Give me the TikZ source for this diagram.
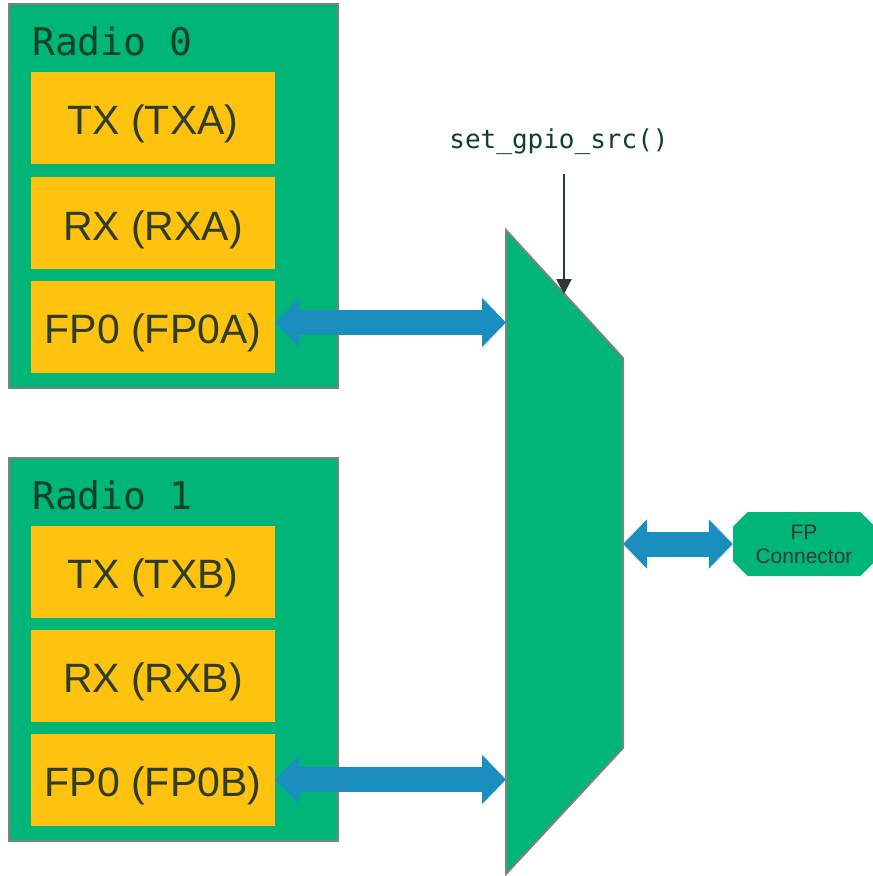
\documentclass[tikz,border=0pt]{standalone}
\usepackage{fontspec}
\setmainfont{Liberation Sans}
\newfontfamily\codefont{DejaVu Sans Mono}
\usetikzlibrary{arrows.meta,shapes.misc}

\definecolor{radiogreen}{RGB}{0,181,120}
\definecolor{portyellow}{RGB}{255,194,14}
\definecolor{busblue}{RGB}{27,142,192}
\definecolor{edgegray}{RGB}{128,128,128}
\definecolor{labelgreen}{RGB}{14,66,40}
\definecolor{portink}{RGB}{46,60,40}
\definecolor{selink}{RGB}{43,58,42}

\begin{document}
\begin{tikzpicture}[x=1pt,y=-1pt,
  radio/.style={draw=edgegray,fill=radiogreen,line width=2pt,
    minimum width=329pt,minimum height=384pt,inner sep=0pt},
  radiolabel/.style={anchor=base west,text=labelgreen,inner sep=0pt,
    font=\codefont\fontsize{38}{44}\selectfont},
  port/.style={fill=portyellow,text=portink,inner sep=0pt,
    text height=34pt,text depth=0pt,
    minimum width=244pt,minimum height=92pt,font=\fontsize{41}{48}\selectfont},
  mux/.style={draw=edgegray,fill=radiogreen,line width=2pt,line join=miter},
  connector/.style={chamfered rectangle,chamfered rectangle xsep=11pt,
    fill=radiogreen,text=black!78,align=center,inner sep=0pt,
    minimum width=142pt,minimum height=64pt,font=\fontsize{21}{24}\selectfont},
  code/.style={anchor=base,text=labelgreen,inner sep=0pt,
    font=\codefont\fontsize{26}{30}\selectfont},
  bus/.style={draw=busblue,line width=25pt,
    {Triangle[length=24pt,width=48pt]}-{Triangle[length=24pt,width=48pt]}},
  sel/.style={draw=selink,line width=2.4pt,-{Triangle[length=15pt,width=15pt]}}]

\useasboundingbox (0,0) rectangle (873,876);

\node[radio] (radio0) at (173.5,196) {};
\node[radiolabel] (label0) at (32,55) {Radio 0};
\node[port] (txa) at (153,117.5) {TX (TXA)};
\node[port] (rxa) at (153,223) {RX (RXA)};
\node[port] (fp0a) at (153,326.5) {FP0 (FP0A)};

\node[radio,minimum height=383pt] (radio1) at (173.5,649.5) {};
\node[radiolabel] (label1) at (32,509) {Radio 1};
\node[port] (txb) at (153,571.5) {TX (TXB)};
\node[port] (rxb) at (153,675.5) {RX (RXB)};
\node[port] (fp0b) at (153,779.5) {FP0 (FP0B)};

\coordinate (muxnw) at (506,230);
\coordinate (muxne) at (623,358);
\coordinate (muxse) at (623,748);
\coordinate (muxsw) at (506,874);
\coordinate (muxsel) at (564,294);
\draw[mux] (muxnw) -- (muxne) -- (muxse) -- (muxsw) -- cycle;

\node[code] (gpio) at (559,148) {set\_gpio\_src()};
\node[connector] (fpconn) at (804,544) {FP\\Connector};

\draw[sel,shorten <=20pt] (gpio.south -| muxsel) -- (muxsel);
\draw[bus] ([yshift=4pt]fp0a.east) -- ([yshift=4pt]fp0a.east -| muxnw);
\draw[bus] (fp0b.east) -- (fp0b.east -| muxsw);
\draw[bus] (fpconn.west -| muxne) -- (fpconn.west);
\end{tikzpicture}
\end{document}
